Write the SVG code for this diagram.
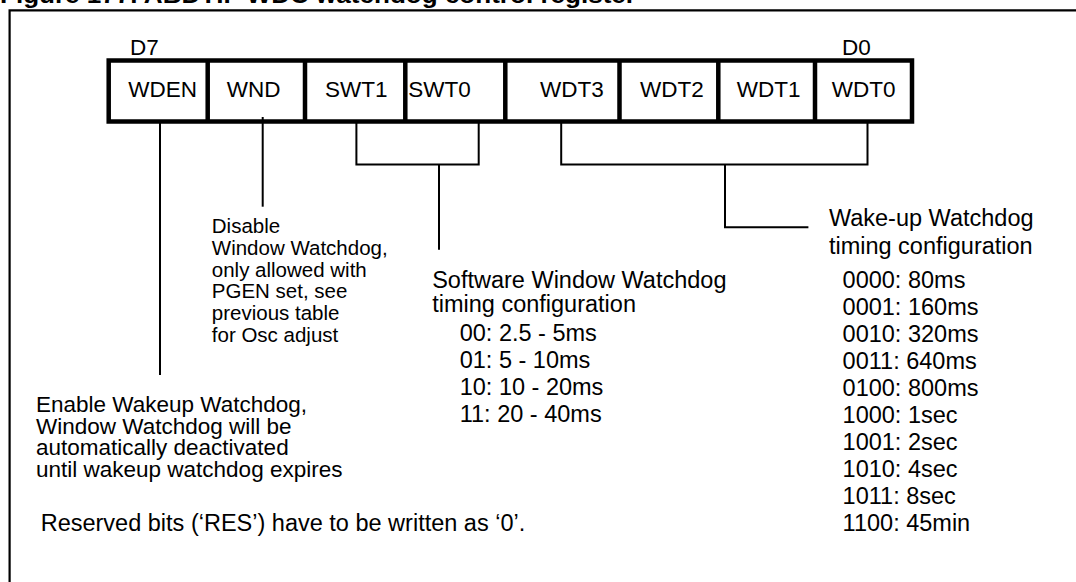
<svg xmlns="http://www.w3.org/2000/svg" width="1076" height="582" viewBox="0 0 1076 582">
<style>
text{font-family:"Liberation Sans",Arial,Helvetica,sans-serif;fill:#000}
.t{font-size:23.5px}
.e{font-size:22.5px}
.s{font-size:20.5px}
.r{font-size:22.5px}
.title{font-size:24px;font-weight:bold}
.ln{stroke:#000;stroke-width:2;fill:none}
.box{stroke:#000;stroke-width:4.5;fill:none}
.frame{stroke:#000;stroke-width:2.2;fill:none}
</style>
<rect width="1076" height="582" fill="#fff"/>
<text class="title" x="0" y="3" textLength="636" lengthAdjust="spacingAndGlyphs">Figure 177. ABDTIF WDC watchdog control register</text>
<path class="frame" d="M1076,10.3 H9.6 V582"/>
<g id="register">
<text class="r" x="130" y="55">D7</text>
<text class="r" x="842" y="55">D0</text>
<rect class="box" x="108.7" y="60.5" width="803.3" height="61"/>
<path class="box" d="M207.7,60.5V121.5 M305,60.5V121.5 M405.3,60.5V121.5 M505.3,60.5V121.5 M619.5,60.5V121.5 M718.3,60.5V121.5 M815,60.5V121.5"/>
<g id="bit-WDEN"><text class="r" x="128.3" y="97">WDEN</text></g>
<g id="bit-WND"><text class="r" x="226.7" y="97">WND</text></g>
<g id="bit-SWT1"><text class="r" x="325" y="97">SWT1</text></g>
<g id="bit-SWT0"><text class="r" x="408.3" y="97">SWT0</text></g>
<g id="bit-WDT3"><text class="r" x="540" y="97">WDT3</text></g>
<g id="bit-WDT2"><text class="r" x="640" y="97">WDT2</text></g>
<g id="bit-WDT1"><text class="r" x="736.7" y="97">WDT1</text></g>
<g id="bit-WDT0"><text class="r" x="831.7" y="97">WDT0</text></g>
</g>
<g id="connectors">
<path class="ln" d="M160,121.5 V375"/>
<path class="ln" d="M262.7,117 V206.7"/>
<path class="ln" d="M356.4,121.5 V164.4 H478.7 V121.5 M439,164.4 V249.8"/>
<path class="ln" d="M561.2,121.5 V164.4 H867.5 V121.5 M725,164.4 V227.2 H808.4"/>
</g>
<g id="note-wnd">
<text class="s" x="211.8" y="233.3">Disable</text>
<text class="s" x="211.8" y="255">Window Watchdog,</text>
<text class="s" x="211.8" y="276.7">only allowed with</text>
<text class="s" x="211.8" y="298.4">PGEN set, see</text>
<text class="s" x="211.8" y="320">previous table</text>
<text class="s" x="211.8" y="341.8">for Osc adjust</text>
</g>
<g id="note-swt">
<text class="t" x="432.2" y="287.5">Software Window Watchdog</text>
<text class="t" x="432.2" y="312">timing configuration</text>
<text class="t" x="459.7" y="340.5">00: 2.5 - 5ms</text>
<text class="t" x="459.7" y="368">01: 5 - 10ms</text>
<text class="t" x="459.7" y="395">10: 10 - 20ms</text>
<text class="t" x="459.7" y="422">11: 20 - 40ms</text>
</g>
<g id="note-wdt">
<text class="t" x="828.9" y="225.5">Wake-up Watchdog</text>
<text class="t" x="828.9" y="253.5">timing configuration</text>
<text class="t" x="842.6" y="287.5">0000: 80ms</text>
<text class="t" x="842.6" y="314.5">0001: 160ms</text>
<text class="t" x="842.6" y="341.5">0010: 320ms</text>
<text class="t" x="842.6" y="368.5">0011: 640ms</text>
<text class="t" x="842.6" y="395.5">0100: 800ms</text>
<text class="t" x="842.6" y="422.5">1000: 1sec</text>
<text class="t" x="842.6" y="449.5">1001: 2sec</text>
<text class="t" x="842.6" y="476.5">1010: 4sec</text>
<text class="t" x="842.6" y="503.5">1011: 8sec</text>
<text class="t" x="842.6" y="530.5">1100: 45min</text>
</g>
<g id="note-wden">
<text class="e" x="36" y="412">Enable Wakeup Watchdog,</text>
<text class="e" x="36" y="433.5">Window Watchdog will be</text>
<text class="e" x="36" y="455">automatically deactivated</text>
<text class="e" x="36" y="476.5">until wakeup watchdog expires</text>
</g>
<text class="t" x="40.7" y="531">Reserved bits (‘RES’) have to be written as ‘0’.</text>
</svg>
